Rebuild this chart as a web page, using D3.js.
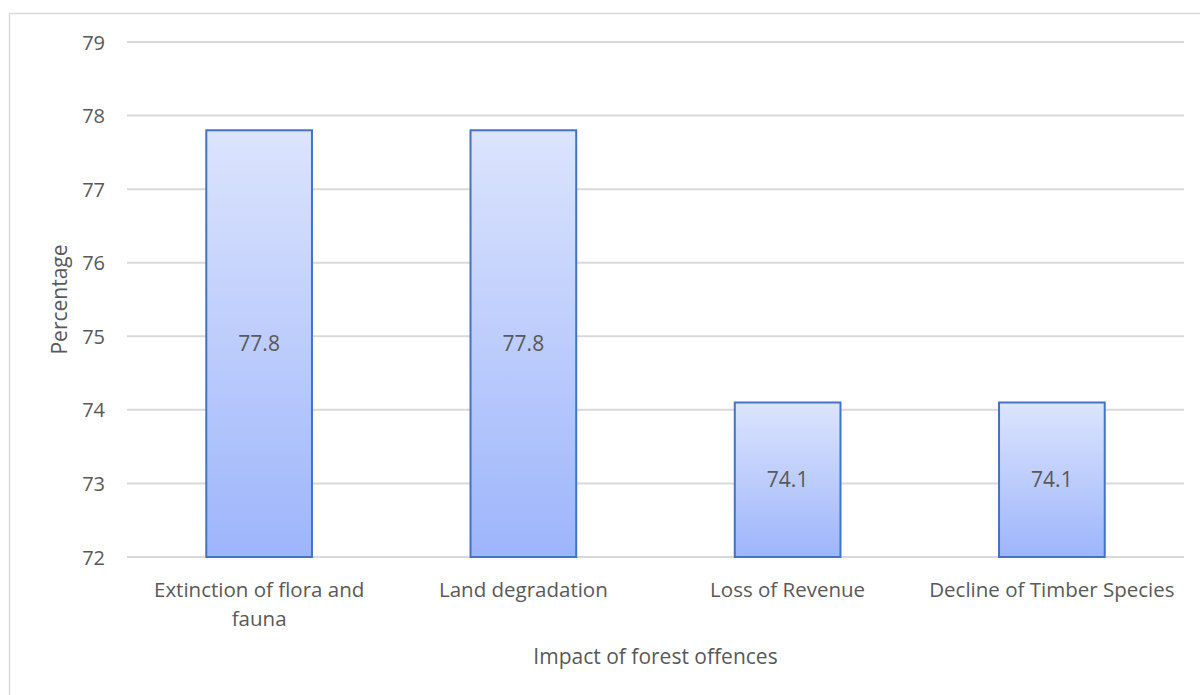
<!DOCTYPE html>
<html>
<head>
<meta charset="utf-8">
<script src="https://cdn.jsdelivr.net/npm/d3@7"></script>
<style>
  html, body { margin: 0; padding: 0; background: #fff; }
  svg { display: block; }
  text { font-family: "Open Sans", "Noto Sans", sans-serif; fill: #595959; }
</style>
</head>
<body>
<svg id="chart" width="1200" height="695"></svg>
<script>
// Impact of forest offences (percentage of respondents)
const categories = [
  ["Extinction of flora and", "fauna"],
  ["Land degradation"],
  ["Loss of Revenue"],
  ["Decline of Timber Species"]
];
const values = [77.8, 77.8, 74.1, 74.1];
const yTicks = [72, 73, 74, 75, 76, 77, 78, 79];

const svg = d3.select("#chart");
const W = 1200, H = 695;
const m = { left: 127, right: 16, top: 42, bottom: 138 };

// outer chart frame
svg.append("rect")
  .attr("x", 9.5).attr("y", 13.5)
  .attr("width", W + 20).attr("height", H + 20)
  .attr("fill", "#fff").attr("stroke", "#d9d9d9").attr("stroke-width", 1.5);

const defs = svg.append("defs");
const grad = defs.append("linearGradient")
  .attr("id", "barFill").attr("x1", 0).attr("y1", 0).attr("x2", 0).attr("y2", 1);
grad.append("stop").attr("offset", "0%").attr("stop-color", "#dce4fd");
grad.append("stop").attr("offset", "100%").attr("stop-color", "#9db5fb");

const x = d3.scaleBand()
  .domain(d3.range(categories.length))
  .range([m.left, W - m.right])
  .paddingInner(0.6).paddingOuter(0.3);

const y = d3.scaleLinear()
  .domain([72, 79])
  .range([H - m.bottom, m.top]);

// horizontal gridlines
svg.append("g")
  .selectAll("line")
  .data(yTicks)
  .join("line")
  .attr("x1", m.left).attr("x2", W - m.right)
  .attr("y1", d => y(d)).attr("y2", d => y(d))
  .attr("stroke", "#d9d9d9").attr("stroke-width", 2);

// y tick labels
const yAxis = d3.axisLeft(y).tickValues(yTicks).tickFormat(d3.format("d"))
  .tickSize(0).tickPadding(0);
const gy = svg.append("g").attr("transform", `translate(${m.left - 22},0)`).call(yAxis);
gy.select(".domain").remove();
gy.selectAll("text")
  .attr("font-family", "'Open Sans', sans-serif")
  .attr("font-size", 20).attr("fill", "#595959")
  .attr("dy", "0.35em");

// bars
svg.append("g")
  .selectAll("rect")
  .data(values)
  .join("rect")
  .attr("x", (d, i) => x(i))
  .attr("y", d => y(d))
  .attr("width", x.bandwidth())
  .attr("height", d => y(72) - y(d))
  .attr("fill", "url(#barFill)")
  .attr("stroke", "#4472c4").attr("stroke-width", 2);

// value labels centred in each bar
svg.append("g")
  .selectAll("text")
  .data(values)
  .join("text")
  .attr("x", (d, i) => x(i) + x.bandwidth() / 2)
  .attr("y", d => (y(d) + y(72)) / 2)
  .attr("dy", "0.35em")
  .attr("text-anchor", "middle")
  .attr("font-size", 21)
  .text(d => d.toFixed(1));

// category labels
const xAxis = svg.append("g");
categories.forEach((lines, i) => {
  const t = xAxis.append("text")
    .attr("x", x(i) + x.bandwidth() / 2)
    .attr("y", y(72) + 40)
    .attr("text-anchor", "middle")
    .attr("font-size", 20.5);
  lines.forEach((ln, j) => {
    t.append("tspan")
      .attr("x", x(i) + x.bandwidth() / 2)
      .attr("dy", j === 0 ? 0 : 29)
      .text(ln);
  });
});

// axis titles
svg.append("text")
  .attr("x", (m.left + W - m.right) / 2)
  .attr("y", 664)
  .attr("text-anchor", "middle")
  .attr("font-family", "Lato, sans-serif")
  .attr("font-size", 21)
  .text("Impact of forest offences");

svg.append("text")
  .attr("transform", `translate(67,${(y(72) + y(79)) / 2}) rotate(-90)`)
  .attr("text-anchor", "middle")
  .attr("font-family", "Lato, sans-serif")
  .attr("font-size", 21)
  .text("Percentage");
</script>
</body>
</html>
